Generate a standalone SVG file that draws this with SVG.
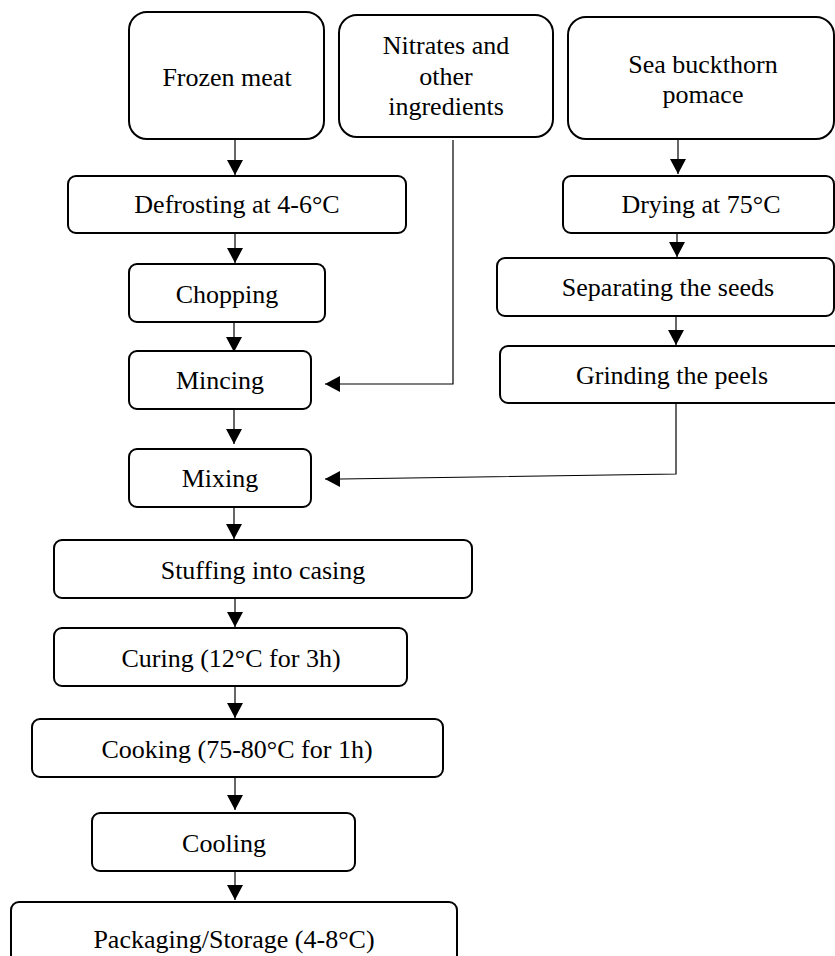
<svg xmlns="http://www.w3.org/2000/svg" width="835" height="956" viewBox="0 0 835 956">
  <defs>
    <style>
      .box { fill: #ffffff; stroke: #000000; stroke-width: 2; }
      .lbl { font-family: "Liberation Serif", "Times New Roman", serif; font-size: 26px; fill: #000000; text-anchor: middle; }
      .con { fill: none; stroke: #000000; stroke-width: 1.2; }
    </style>
    <marker id="arr" markerUnits="userSpaceOnUse" markerWidth="16" markerHeight="16" refX="15" refY="8" orient="auto" viewBox="0 0 16 16">
      <path d="M0,0 L15,8 L0,16 Z" fill="#000000"/>
    </marker>
  </defs>
  <rect width="835" height="956" fill="#ffffff"/>

  <g id="connectors">
    <line class="con" x1="235" y1="139" x2="235" y2="175" marker-end="url(#arr)"/>
    <line class="con" x1="235" y1="233" x2="235" y2="263" marker-end="url(#arr)"/>
    <line class="con" x1="234" y1="322" x2="234" y2="352" marker-end="url(#arr)"/>
    <line class="con" x1="234" y1="409" x2="234" y2="444" marker-end="url(#arr)"/>
    <line class="con" x1="234" y1="507" x2="234" y2="539" marker-end="url(#arr)"/>
    <line class="con" x1="235" y1="598" x2="235" y2="627" marker-end="url(#arr)"/>
    <line class="con" x1="235" y1="686" x2="235" y2="718" marker-end="url(#arr)"/>
    <line class="con" x1="235" y1="777" x2="235" y2="810" marker-end="url(#arr)"/>
    <line class="con" x1="235" y1="871" x2="235" y2="900" marker-end="url(#arr)"/>
    <line class="con" x1="678" y1="139" x2="678" y2="174" marker-end="url(#arr)"/>
    <line class="con" x1="677" y1="233" x2="677" y2="257" marker-end="url(#arr)"/>
    <line class="con" x1="676" y1="316" x2="676" y2="345" marker-end="url(#arr)"/>
    <path class="con" d="M453,140 V384 H325" marker-end="url(#arr)"/>
    <path class="con" d="M676,403 V474 L341,479 H325" marker-end="url(#arr)"/>
  </g>

  <g id="frozen-meat">
    <rect class="box" x="129" y="12" width="195" height="127" rx="18"/>
    <text class="lbl" x="227" y="86">Frozen meat</text>
  </g>
  <g id="nitrates">
    <rect class="box" x="339" y="15" width="214" height="122" rx="18"/>
    <text class="lbl" x="446" y="54">Nitrates and</text>
    <text class="lbl" x="446" y="85">other</text>
    <text class="lbl" x="446" y="115">ingredients</text>
  </g>
  <g id="sea-buckthorn">
    <rect class="box" x="568" y="17" width="266" height="122" rx="18"/>
    <text class="lbl" x="703" y="73">Sea buckthorn</text>
    <text class="lbl" x="703" y="103">pomace</text>
  </g>
  <g id="defrosting">
    <rect class="box" x="68" y="176" width="338" height="57" rx="8"/>
    <text class="lbl" x="237" y="213">Defrosting at 4-6°C</text>
  </g>
  <g id="drying">
    <rect class="box" x="563" y="176" width="271" height="57" rx="8"/>
    <text class="lbl" x="701" y="213">Drying at 75°C</text>
  </g>
  <g id="chopping">
    <rect class="box" x="129" y="264" width="196" height="58" rx="8"/>
    <text class="lbl" x="227" y="303">Chopping</text>
  </g>
  <g id="separating">
    <rect class="box" x="497" y="258" width="337" height="58" rx="8"/>
    <text class="lbl" x="668" y="296">Separating the seeds</text>
  </g>
  <g id="grinding">
    <rect class="box" x="500" y="346" width="344" height="57" rx="8"/>
    <text class="lbl" x="672" y="384">Grinding the peels</text>
  </g>
  <g id="mincing">
    <rect class="box" x="129" y="351" width="182" height="58" rx="8"/>
    <text class="lbl" x="220" y="389">Mincing</text>
  </g>
  <g id="mixing">
    <rect class="box" x="129" y="449" width="182" height="58" rx="8"/>
    <text class="lbl" x="220" y="487">Mixing</text>
  </g>
  <g id="stuffing">
    <rect class="box" x="54" y="540" width="418" height="58" rx="8"/>
    <text class="lbl" x="263" y="579">Stuffing into casing</text>
  </g>
  <g id="curing">
    <rect class="box" x="54" y="628" width="353" height="58" rx="8"/>
    <text class="lbl" x="231" y="667">Curing (12°C for 3h)</text>
  </g>
  <g id="cooking">
    <rect class="box" x="32" y="719" width="411" height="58" rx="8"/>
    <text class="lbl" x="237" y="758">Cooking (75-80°C for 1h)</text>
  </g>
  <g id="cooling">
    <rect class="box" x="92" y="813" width="263" height="58" rx="8"/>
    <text class="lbl" x="224" y="852">Cooling</text>
  </g>
  <g id="packaging">
    <rect class="box" x="11" y="902" width="446" height="73" rx="8"/>
    <text class="lbl" x="234" y="948">Packaging/Storage (4-8°C)</text>
  </g>
</svg>
